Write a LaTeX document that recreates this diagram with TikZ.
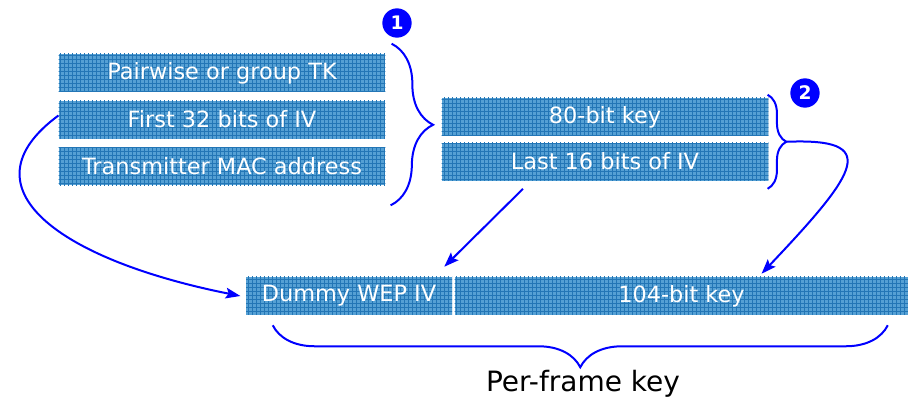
\documentclass[tikz,border=0pt]{standalone}
\usepackage{fontspec}
\setmainfont{DejaVu Sans}
\usetikzlibrary{positioning,patterns,decorations.pathreplacing,arrows.meta}
\definecolor{keyfill}{RGB}{85,160,212}
\definecolor{keygrid}{RGB}{35,118,182}
\definecolor{linkblue}{RGB}{0,0,255}

\begin{document}
\begin{tikzpicture}[x=0.75pt,y=-0.75pt,
  keybox/.style={fill=keyfill,postaction={pattern=grid,pattern color=keygrid},
    text=white,font=\fontsize{16.8}{19}\selectfont,inner sep=0pt,minimum height=28.5pt},
  stepnum/.style={circle,fill=linkblue,text=white,font=\bfseries\fontsize{14}{14}\selectfont,
    minimum size=22pt,inner sep=0pt},
  link/.style={draw=linkblue,line width=1.5pt,-{Stealth[length=11pt,width=8pt,inset=2pt]}},
  curly/.style={draw=linkblue,line width=1.5pt,decorate,decoration={brace,amplitude=#1}}]

  \useasboundingbox (0,0) rectangle (908,399);

  \node[keybox,minimum width=245pt] (pairwise) at (222,73) {Pairwise or group TK};
  \node[keybox,minimum width=245pt,below=6pt of pairwise] (first32) {First 32 bits of IV};
  \node[keybox,minimum width=245pt,below=6pt of first32] (txmac) {Transmitter MAC address};

  \node[keybox,minimum width=245pt] (key80) at (605,117) {80-bit key};
  \node[keybox,minimum width=245pt,below=4.5pt of key80] (last16) {Last 16 bits of IV};

  \node[keybox,minimum width=154.5pt] (dummy) at (349,296) {Dummy WEP IV};
  \node[keybox,minimum width=340.5pt,right=1.5pt of dummy] (key104) {104-bit key};

  \node[stepnum] (one) at (397,23) {1};
  \node[stepnum] (two) at (805,93) {2};

  \draw[curly=31.5pt] ([shift={(6,-10)}]pairwise.north east) -- ([shift={(5,20)}]txmac.south east);
  \draw[curly=14pt] ([shift={(-1,-3)}]key80.north east) -- ([shift={(-1,8)}]last16.south east)
    coordinate[midway,xshift=14pt] (tail2);
  \draw[curly=31.5pt] ([shift={(-21,10)}]key104.south east) -- ([shift={(27,10)}]dummy.south west);

  \draw[link] ([yshift=3pt]first32.west) .. controls (-40,188) and (60,260) .. ([xshift=-4pt]dummy.west);
  \draw[link] ([shift={(-82,8)}]last16.south) -- ([shift={(-8,-10)}]dummy.north east);
  \draw[link] (tail2) .. controls (880,138) and (860,170) .. ([shift={(80,-3)}]key104.north);

  \node[font=\fontsize{21}{24}\selectfont] (perframe) at (583,384) {Per-frame key};
\end{tikzpicture}
\end{document}
